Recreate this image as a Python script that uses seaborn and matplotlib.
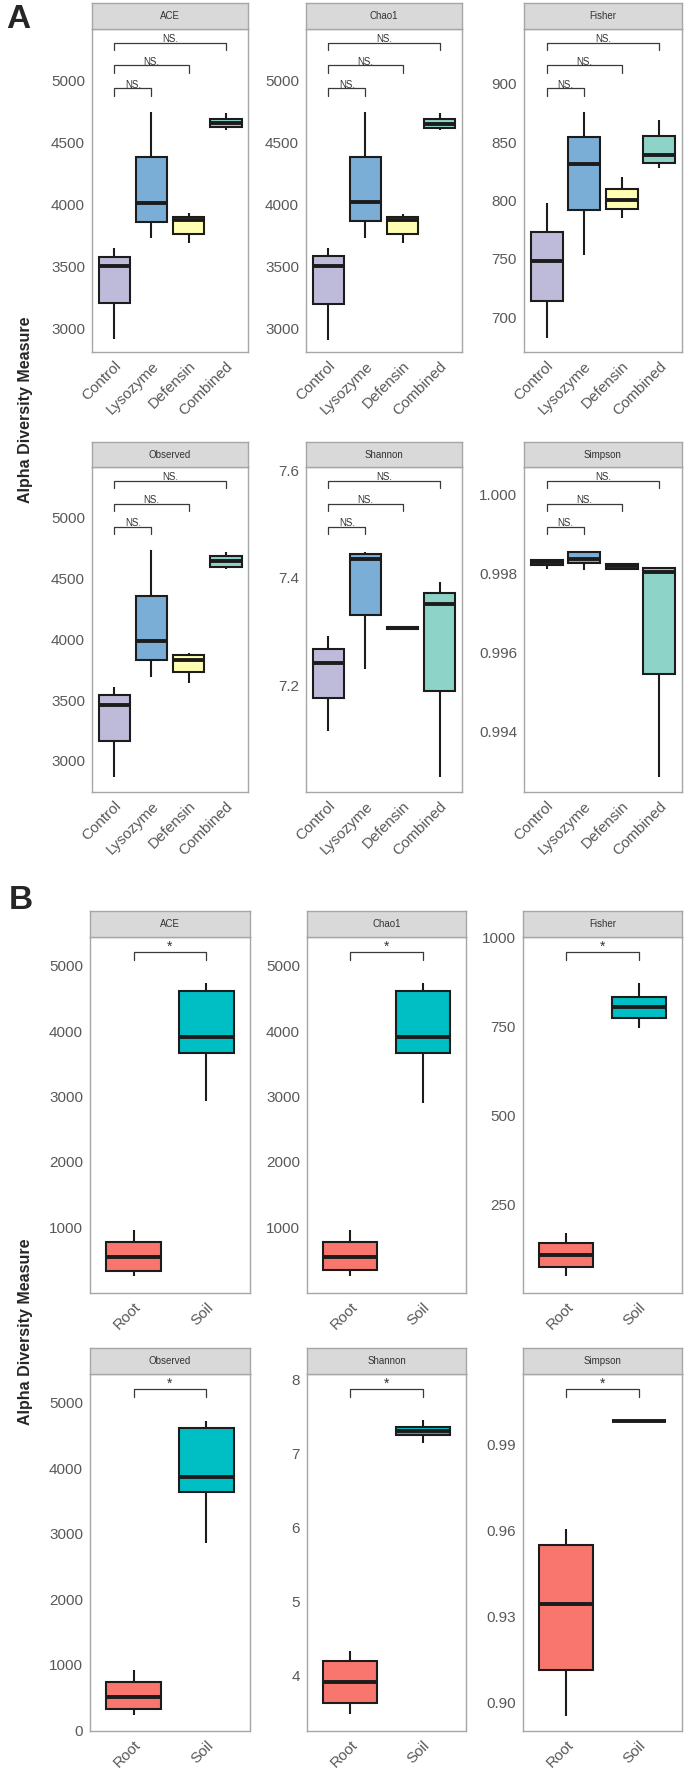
import numpy as np
import pandas as pd
import matplotlib
matplotlib.use('Agg')
import matplotlib.pyplot as plt
import seaborn as sns
from matplotlib.ticker import FormatStrFormatter

# box summaries: [min, q1, median, q3, max] per group
groups_a = ['Control', 'Lysozyme', 'Defensin', 'Combined']
groups_b = ['Root', 'Soil']

ace_a = [[2911, 3205, 3501, 3577, 3644], [3725, 3860, 4008, 4380, 4744],
         [3685, 3760, 3870, 3900, 3927], [4600, 4625, 4660, 4690, 4735]]
chao1_a = [[2905, 3195, 3498, 3582, 3650], [3731, 3866, 4015, 4386, 4746],
           [3687, 3763, 3870, 3899, 3926], [4602, 4616, 4651, 4689, 4737]]
fisher_a = [[682, 714, 748, 773, 798], [753, 792, 831, 854, 876],
            [785, 793, 800, 810, 820], [828, 832, 839, 855, 869]]
observed_a = [[2868, 3164, 3458, 3540, 3608], [3690, 3833, 3986, 4356, 4732],
              [3641, 3735, 3830, 3870, 3890], [4580, 4595, 4640, 4682, 4718]]
shannon_a = [[7.115, 7.176, 7.241, 7.267, 7.291], [7.231, 7.331, 7.434, 7.444, 7.448],
             [7.302, 7.304, 7.307, 7.309, 7.311], [7.029, 7.189, 7.352, 7.372, 7.392]]
simpson_a = [[0.99810, 0.99820, 0.99829, 0.99834, 0.99837], [0.99808, 0.99825, 0.99837, 0.99854, 0.99857],
             [0.99810, 0.99811, 0.99818, 0.99823, 0.99826], [0.99285, 0.99545, 0.99804, 0.99814, 0.99817]]

ace_b = [[252, 338, 542, 771, 964], [2934, 3672, 3906, 4613, 4746]]
chao1_b = [[252, 340, 542, 771, 955], [2910, 3672, 3906, 4620, 4746]]
fisher_b = [[47, 73, 108, 140, 169], [746, 775, 805, 832, 873]]
observed_b = [[239, 325, 502, 736, 914], [2866, 3633, 3872, 4609, 4726]]
shannon_b = [[3.48, 3.63, 3.91, 4.19, 4.33], [7.13, 7.25, 7.30, 7.35, 7.45]]
simpson_b = [[0.8953, 0.9111, 0.9344, 0.9548, 0.9606], [0.9978, 0.9981, 0.9982, 0.9983, 0.9985]]

pal_a = {'Control': '#BEBADA', 'Lysozyme': '#7AAED6', 'Defensin': '#FFFFB3', 'Combined': '#8DD3C7'}
pal_b = {'Root': '#F8766D', 'Soil': '#00BFC4'}

sns.set_style('white')
plt.rcParams['font.family'] = ['Liberation Sans', 'DejaVu Sans']

W, H = 685, 1778
fig = plt.figure(figsize=(6.85, 17.78), dpi=100)


def px_axes(x0, y0, x1, y1):
    return fig.add_axes([x0 / W, 1 - y1 / H, (x1 - x0) / W, (y1 - y0) / H])


def facet(box, strip_top, title, groups, values, pal, ylim, yticks, fmt, width, pairs, label, brk):
    x0, y0, x1, y1 = box
    ax = px_axes(x0, y0, x1, y1)
    sax = px_axes(x0, strip_top, x1, y0)

    df = pd.DataFrame({'group': np.repeat(groups, 5), 'value': np.concatenate(values)})
    sns.boxplot(data=df, x='group', y='value', hue='group', order=groups, hue_order=groups,
                palette=pal, saturation=1, width=width, whis=(0, 100), linewidth=1.5,
                linecolor='#1c1c1c', showcaps=False, medianprops={'linewidth': 2.8},
                legend=False, ax=ax)
    ax.set_xlim(-0.6, len(groups) - 0.4)
    ax.set_ylim(*ylim)
    ax.set_yticks(yticks)
    ax.yaxis.set_major_formatter(FormatStrFormatter(fmt))
    ax.set_xticks(range(len(groups)))
    ax.set_xticklabels(groups, rotation=45, ha='right', va='top', rotation_mode='anchor')
    ax.set_xlabel('')
    ax.set_ylabel('')
    ax.tick_params(length=3, width=0.8, color='#777777', labelcolor='#595959', labelsize=11, pad=2)
    for s in ax.spines.values():
        s.set_color('#a6a6a6')
        s.set_linewidth(1.0)

    # significance brackets
    trans = ax.get_xaxis_transform()
    for (a, b), yb in zip(pairs, brk):
        ax.plot([a, a, b, b], [yb - 0.022, yb, yb, yb - 0.022], transform=trans,
                color='#3a3a3a', lw=0.9, clip_on=False)
        ax.text((a + b) / 2, yb - 0.004, label, transform=trans, ha='center', va='bottom',
                fontsize=7 if label == 'NS.' else 10, color='#333333')

    sax.set_facecolor('#d9d9d9')
    sax.set_xticks([])
    sax.set_yticks([])
    for s in sax.spines.values():
        s.set_color('#a6a6a6')
        s.set_linewidth(1.0)
    sax.text(0.5, 0.5, title, transform=sax.transAxes, ha='center', va='center',
             fontsize=7, color='#333333')


cols_a = [(92, 248), (306, 462), (524, 682)]
cols_b = [(90, 250), (307, 466), (523, 682)]
pairs_a = [(0, 1), (0, 2), (0, 3)]
brk_a = [0.816, 0.887, 0.958]
pairs_b = [(0, 1)]
brk_b = [0.958]

rows_a = [(3, 29, 352), (442, 467, 792)]
rows_b = [(911, 937, 1293), (1348, 1374, 1731)]

specs_a = [
    ('ACE', ace_a, (2806, 5418), [3000, 3500, 4000, 4500, 5000], '%d'),
    ('Chao1', chao1_a, (2806, 5418), [3000, 3500, 4000, 4500, 5000], '%d'),
    ('Fisher', fisher_a, (670, 947), [700, 750, 800, 850, 900], '%d'),
    ('Observed', observed_a, (2745, 5416), [3000, 3500, 4000, 4500, 5000], '%d'),
    ('Shannon', shannon_a, (7.0015, 7.606), [7.2, 7.4, 7.6], '%.1f'),
    ('Simpson', simpson_a, (0.99247, 1.00069), [0.994, 0.996, 0.998, 1.000], '%.3f'),
]
specs_b = [
    ('ACE', ace_b, (-5, 5443), [1000, 2000, 3000, 4000, 5000], '%d'),
    ('Chao1', chao1_b, (-5, 5443), [1000, 2000, 3000, 4000, 5000], '%d'),
    ('Fisher', fisher_b, (0, 1002), [250, 500, 750, 1000], '%d'),
    ('Observed', observed_b, (-10, 5437), [0, 1000, 2000, 3000, 4000, 5000], '%d'),
    ('Shannon', shannon_b, (3.248, 8.068), [4, 5, 6, 7, 8], '%d'),
    ('Simpson', simpson_b, (0.8899, 1.0146), [0.90, 0.93, 0.96, 0.99], '%.2f'),
]

for i, (title, vals, ylim, ticks, fmt) in enumerate(specs_a):
    st, top, bot = rows_a[i // 3]
    x0, x1 = cols_a[i % 3]
    facet((x0, top, x1, bot), st, title, groups_a, vals, pal_a, ylim, ticks, fmt, 0.85,
          pairs_a, 'NS.', brk_a)

for i, (title, vals, ylim, ticks, fmt) in enumerate(specs_b):
    st, top, bot = rows_b[i // 3]
    x0, x1 = cols_b[i % 3]
    facet((x0, top, x1, bot), st, title, groups_b, vals, pal_b, ylim, ticks, fmt, 0.75,
          pairs_b, '*', brk_b)

fig.text(26 / W, 1 - 410 / H, 'Alpha Diversity Measure', rotation=90, fontsize=11.5,
         fontweight='bold', ha='center', va='center')
fig.text(26 / W, 1 - 1332 / H, 'Alpha Diversity Measure', rotation=90, fontsize=11.5,
         fontweight='bold', ha='center', va='center')
fig.text(18 / W, 1 - 20 / H, 'A', fontsize=24, fontweight='bold', ha='center', va='center')
fig.text(21 / W, 1 - 900 / H, 'B', fontsize=24, fontweight='bold', ha='center', va='center')

fig.savefig('out.png', dpi=100)
